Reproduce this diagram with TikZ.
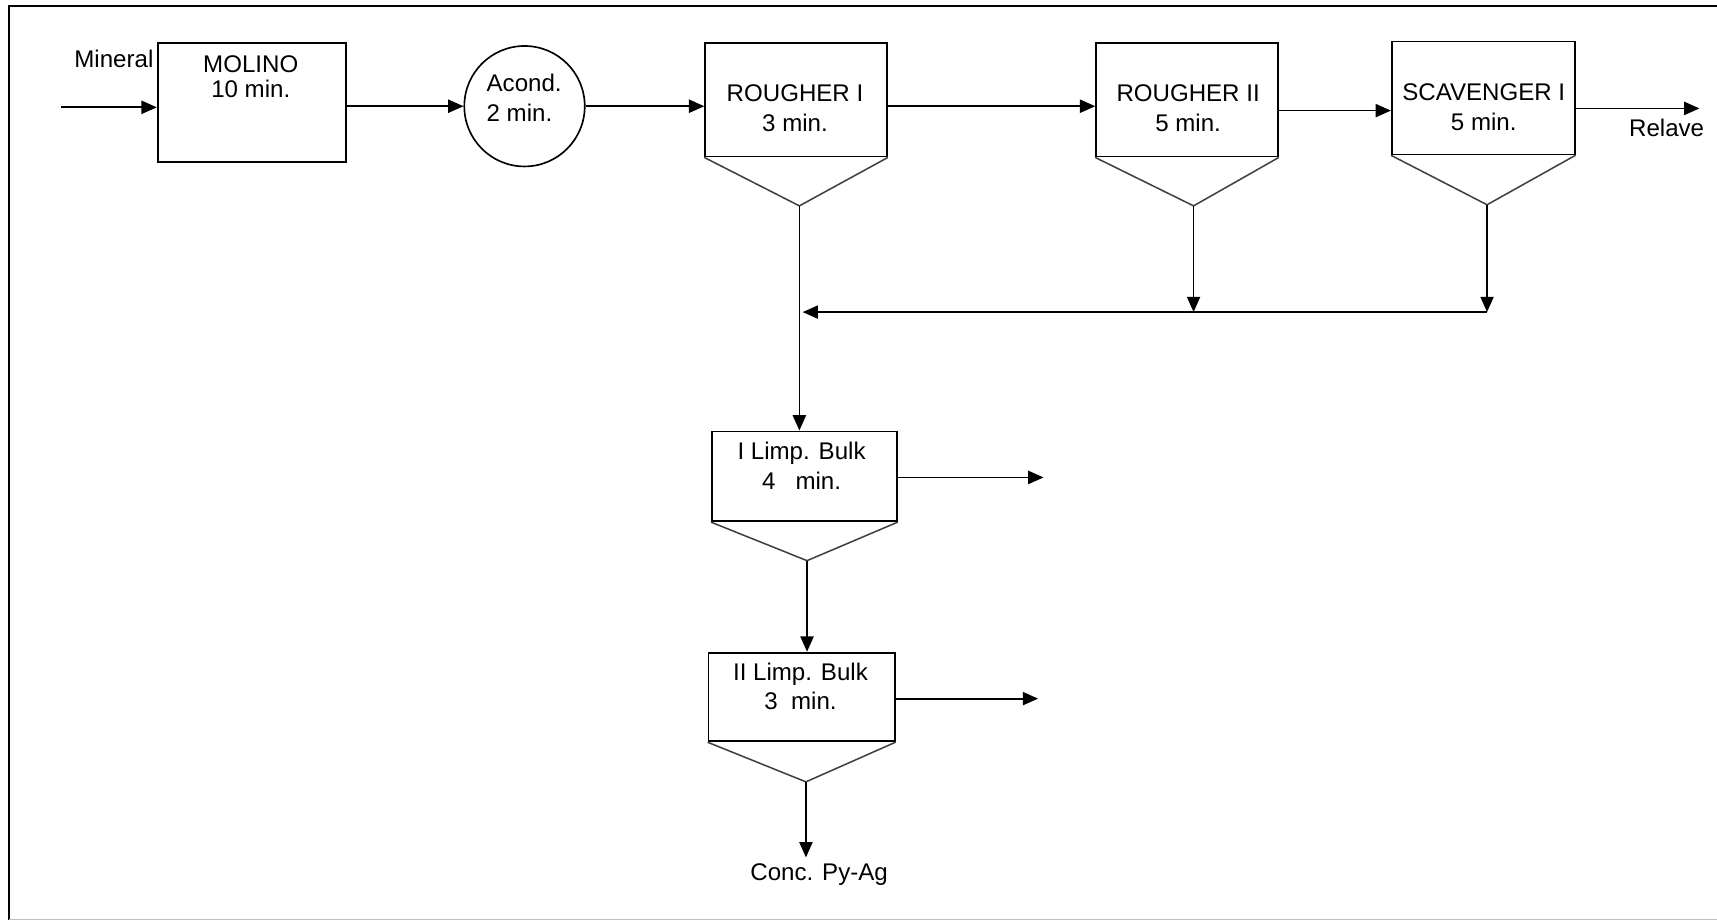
\documentclass[tikz,border=0pt]{standalone}
\usepackage{fontspec}
\setmainfont{Liberation Sans}
\usetikzlibrary{arrows.meta}
\begin{document}
\begin{tikzpicture}[x=0.5pt,y=-0.5pt,
  flow/.style={line width=0.8pt, -{Triangle[length=7pt,width=6pt]}},
  cell/.style={draw, line width=0.8pt, inner sep=0pt, rectangle},
  tank/.style={draw, circle, line width=0.75pt, inner sep=0pt},
  hopper/.style={draw=black!75, line width=0.7pt},
  lbl/.style={anchor=base, inner sep=0pt, font=\fontsize{11}{13.5}\selectfont}]
\useasboundingbox (0,0) rectangle (1568,840);

% frame
\draw[line width=1pt] (8,840) -- (8,5.5) -- (1568,5.5);
\draw[black!25, line width=0.5pt] (8,839.3) -- (1568,839.3);

% units
\node[cell, minimum width=86pt, minimum height=54.5pt] (molino) at (230,93.5) {};
\node[tank, minimum size=55pt] (acond) at (479,97) {};
\node[cell, minimum width=83pt, minimum height=51.75pt] (r1) at (727,91.25) {};
\node[cell, minimum width=83pt, minimum height=52pt] (r2) at (1084,91) {};
\node[cell, minimum width=83.5pt, minimum height=51.5pt] (scav) at (1354.5,89.5) {};
\node[cell, minimum width=84.5pt, minimum height=41pt] (limp1) at (734.5,435) {};
\node[cell, minimum width=85pt, minimum height=40.5pt] (limp2) at (732,636.5) {};

% froth hoppers
\coordinate (r1a) at (730,188);
\coordinate (r2a) at (1090,188);
\coordinate (sca) at (1358,187);
\coordinate (l1a) at (737,512);
\coordinate (l2a) at (736,714);
\draw[hopper] (r1.south west) -- (r1a) -- (r1.south east);
\draw[hopper] (r2.south west) -- (r2a) -- (r2.south east);
\draw[hopper] (scav.south west) -- (sca) -- (scav.south east);
\draw[hopper] (limp1.south west) -- (l1a) -- (limp1.south east);
\draw[hopper] (limp2.south west) -- (l2a) -- (limp2.south east);

% labels
\node[lbl] (molinot) at (229,66) {\begin{tabular}[t]{@{}c@{}}MOLINO\\[-2pt]10 min.\end{tabular}};
\node[lbl, anchor=base west] (acondt) at (444,84) {\begin{tabular}[t]{@{}l@{}}Acond.\\2 min.\end{tabular}};
\node[lbl] (r1t) at (726,93) {\begin{tabular}[t]{@{}c@{}}ROUGHER I\\3 min.\end{tabular}};
\node[lbl] (r2t) at (1085,93) {\begin{tabular}[t]{@{}c@{}}ROUGHER II\\5 min.\end{tabular}};
\node[lbl] (scavt) at (1355,92) {\begin{tabular}[t]{@{}c@{}}SCAVENGER I\\5 min.\end{tabular}};
\node[lbl] (limp1t) at (732,420) {\begin{tabular}[t]{@{}c@{}}I Limp. Bulk\\4\ \ \ min.\end{tabular}};
\node[lbl] (limp2t) at (731,621) {\begin{tabular}[t]{@{}c@{}}II Limp. Bulk\\3\ \ min.\end{tabular}};
\node[lbl] (mineral) at (104,62) {Mineral};
\node[lbl] (relave) at (1522,125) {Relave};
\node[lbl] (conc) at (748,804) {Conc. Py-Ag};

% main line
\coordinate (feed) at (56,98);
\coordinate (mid2) at (0,101);
\coordinate (tail) at (1552,99);
\draw[flow] (feed) -- (feed -| molino.west);
\draw[flow] (molino.east |- acond.west) -- (acond.west);
\draw[flow] (acond.east) -- (acond.east -| r1.west);
\draw[flow] (r1.east |- acond.east) -- (r2.west |- acond.east);
\draw[flow] (r2.east |- mid2) -- (scav.west |- mid2);
\draw[flow] (scav.east |- tail) -- (tail);

% concentrate return
\coordinate (ret) at (0,285);
\draw[flow] (r2a) -- (r2a |- ret);
\draw[flow] (sca) -- (sca |- ret);
\draw[flow, shorten >=1.5pt] (sca |- ret) -- (r1a |- ret);

% cleaning stages
\draw[flow] (r1a) -- (r1a |- limp1.north);
\draw[flow] (l1a) -- (l1a |- limp2.north);
\coordinate (concend) at (736,783);
\draw[flow] (l2a) -- (concend);
\coordinate (out1) at (953,436);
\coordinate (out2) at (948,638);
\draw[flow] (limp1.east |- out1) -- (out1);
\draw[flow] (limp2.east |- out2) -- (out2);
\end{tikzpicture}
\end{document}
